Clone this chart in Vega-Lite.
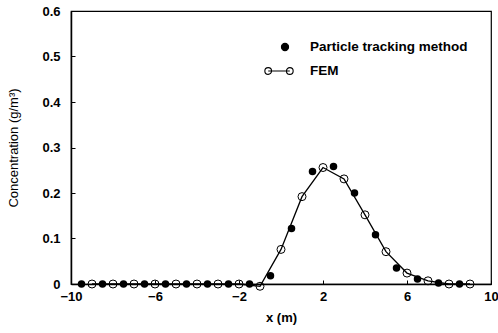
{
  "$schema": "https://vega.github.io/schema/vega-lite/v6.json",
  "width": 420,
  "height": 273,
  "autosize": {"type": "none"},
  "padding": {"left": 71, "top": 11, "right": 7, "bottom": 49},
  "background": "white",
  "config": {
    "font": "Liberation Sans",
    "view": {"stroke": "black", "strokeWidth": 1.2},
    "axis": {
      "domainColor": "black",
      "domainWidth": 1.5,
      "tickColor": "black",
      "tickWidth": 1,
      "tickSize": -4,
      "grid": false,
      "labelFont": "Liberation Sans",
      "labelFontSize": 13,
      "labelFontWeight": "bold",
      "labelColor": "black",
      "titleFont": "Liberation Sans",
      "titleFontSize": 13,
      "titleColor": "black"
    },
    "legend": {
      "orient": "none",
      "legendX": 195,
      "legendY": 23,
      "title": null,
      "padding": 0,
      "symbolSize": 576,
      "symbolStrokeWidth": 1.1,
      "symbolOpacity": 1,
      "labelOffset": 18,
      "rowPadding": 4,
      "labelFont": "Liberation Sans",
      "labelFontSize": 13.5,
      "labelFontWeight": "bold",
      "labelColor": "black"
    }
  },
  "data": {
    "values": [
      {"method": "FEM", "x": -9, "c": 0},
      {"method": "FEM", "x": -8, "c": 0},
      {"method": "FEM", "x": -7, "c": 0},
      {"method": "FEM", "x": -6, "c": 0},
      {"method": "FEM", "x": -5, "c": 0},
      {"method": "FEM", "x": -4, "c": 0},
      {"method": "FEM", "x": -3, "c": 0},
      {"method": "FEM", "x": -2, "c": 0},
      {"method": "FEM", "x": -1, "c": -0.005},
      {"method": "FEM", "x": 0, "c": 0.076},
      {"method": "FEM", "x": 1, "c": 0.192},
      {"method": "FEM", "x": 2, "c": 0.256},
      {"method": "FEM", "x": 3, "c": 0.231},
      {"method": "FEM", "x": 4, "c": 0.152},
      {"method": "FEM", "x": 5, "c": 0.071},
      {"method": "FEM", "x": 6, "c": 0.024},
      {"method": "FEM", "x": 7, "c": 0.007},
      {"method": "FEM", "x": 8, "c": 0},
      {"method": "FEM", "x": 9, "c": 0},
      {"method": "Particle tracking method", "x": -9.5, "c": 0},
      {"method": "Particle tracking method", "x": -8.5, "c": 0},
      {"method": "Particle tracking method", "x": -7.5, "c": 0},
      {"method": "Particle tracking method", "x": -6.5, "c": 0},
      {"method": "Particle tracking method", "x": -5.5, "c": 0},
      {"method": "Particle tracking method", "x": -4.5, "c": 0},
      {"method": "Particle tracking method", "x": -3.5, "c": 0},
      {"method": "Particle tracking method", "x": -2.5, "c": 0},
      {"method": "Particle tracking method", "x": -1.5, "c": 0},
      {"method": "Particle tracking method", "x": -0.5, "c": 0.018},
      {"method": "Particle tracking method", "x": 0.5, "c": 0.122},
      {"method": "Particle tracking method", "x": 1.5, "c": 0.247},
      {"method": "Particle tracking method", "x": 2.5, "c": 0.258},
      {"method": "Particle tracking method", "x": 3.5, "c": 0.2},
      {"method": "Particle tracking method", "x": 4.5, "c": 0.108},
      {"method": "Particle tracking method", "x": 5.5, "c": 0.035},
      {"method": "Particle tracking method", "x": 6.5, "c": 0.011},
      {"method": "Particle tracking method", "x": 7.5, "c": 0.002},
      {"method": "Particle tracking method", "x": 8.5, "c": 0}
    ]
  },
  "encoding": {
    "x": {
      "field": "x",
      "type": "quantitative",
      "scale": {"domain": [-10, 10], "nice": false, "zero": false},
      "axis": {
        "title": "x (m)",
        "titleFontWeight": "bold",
        "titlePadding": 8,
        "values": [-10, -6, -2, 2, 6, 10],
        "labelPadding": 10,
        "labelFlush": false
      }
    },
    "y": {
      "field": "c",
      "type": "quantitative",
      "scale": {"domain": [0, 0.6], "nice": false, "zero": false},
      "axis": {
        "title": "Concentration (g/m³)",
        "titleFontWeight": "normal",
        "titlePadding": 21,
        "values": [0, 0.1, 0.2, 0.3, 0.4, 0.5, 0.6],
        "format": ".1~f",
        "labelPadding": 15,
        "labelFlush": false
      }
    }
  },
  "layer": [
    {
      "transform": [{"filter": "datum.method === 'FEM'"}],
      "mark": {"type": "line", "color": "black", "strokeWidth": 1.3, "clip": false}
    },
    {
      "transform": [{"filter": "datum.method === 'FEM'"}],
      "mark": {"type": "point", "shape": "circle", "size": 64, "filled": false, "color": "black", "strokeWidth": 1, "opacity": 1, "clip": false}
    },
    {
      "transform": [{"filter": "datum.method === 'Particle tracking method'"}],
      "mark": {"type": "circle", "size": 56, "color": "black", "opacity": 1, "clip": false}
    },
    {
      "transform": [{"filter": "false"}],
      "mark": {"type": "point", "strokeWidth": 1.1, "opacity": 1},
      "encoding": {
        "shape": {
          "field": "method",
          "type": "nominal",
          "scale": {
            "domain": ["Particle tracking method", "FEM"],
            "range": [
              "M0.2,0A0.3,0.3 0 1,0 0.8,0A0.3,0.3 0 1,0 0.2,0Z",
              "M-1.18,0A0.28,0.28 0 1,0 -0.62,0A0.28,0.28 0 1,0 -1.18,0ZM-0.9,0L0.9,0M0.62,0A0.28,0.28 0 1,0 1.18,0A0.28,0.28 0 1,0 0.62,0Z"
            ]
          },
          "legend": {"title": null}
        },
        "fill": {
          "field": "method",
          "type": "nominal",
          "scale": {
            "domain": ["Particle tracking method", "FEM"],
            "range": ["black", "transparent"]
          },
          "legend": {"title": null}
        },
        "stroke": {
          "field": "method",
          "type": "nominal",
          "scale": {
            "domain": ["Particle tracking method", "FEM"],
            "range": ["black", "black"]
          },
          "legend": {"title": null}
        }
      }
    }
  ]
}
